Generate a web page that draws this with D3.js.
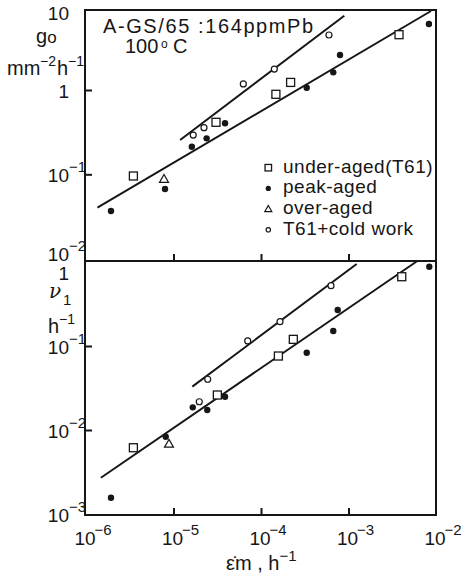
<!DOCTYPE html>
<html>
<head>
<meta charset="utf-8">
<script src="https://cdn.jsdelivr.net/npm/d3@7"></script>
<style>
  body { margin: 0; background: #fff; }
  svg { font-family: "Liberation Sans", Arial, Helvetica, sans-serif; }
  text { fill: #161616; }
</style>
</head>
<body>
<svg id="chart"></svg>
<script>
// decade exponents for the tick labels
const xTickExps = [-6, -5, -4, -3, -2];
const goTickExps = [1, 0, -1, -2];
const nuTickExps = [0, -1, -2, -3];

const legendLabels = ['under-aged(T61)', 'peak-aged', 'over-aged', 'T61+cold work'];
const legendKinds = ['square', 'dot', 'triangle', 'circle'];

// top panel: g0 (mm^-2 h^-1) against strain rate (h^-1)
const goUnder = [[3.48e-6, 0.0955], [3.06e-5, 0.414], [1.48e-4, 0.889], [2.18e-4, 1.23], [3.78e-3, 4.53]];
const goPeak = [[1.93e-6, 0.0367], [8.0e-6, 0.067], [1.62e-5, 0.212], [2.39e-5, 0.267], [3.88e-5, 0.403],
                [3.33e-4, 1.065], [6.7e-4, 1.62], [8.0e-4, 2.6], [8.3e-3, 6.07]];
const goOver = [[7.79e-6, 0.0873]];
const goCold = [[1.68e-5, 0.292], [2.23e-5, 0.357], [6.28e-5, 1.18], [1.42e-4, 1.77], [5.98e-4, 4.49]];
const goFitCold = [[1.19e-5, 0.255], [8.95e-4, 7.61]];
const goFitAll = [[1.35e-6, 0.0402], [8.77e-3, 8.65]];

// bottom panel: nu1 (h^-1) against strain rate (h^-1)
const nuUnder = [[3.48e-6, 0.00615], [3.17e-5, 0.0261], [1.58e-4, 0.076], [2.34e-4, 0.120], [4.06e-3, 0.668]];
const nuPeak = [[1.93e-6, 0.00156], [8.15e-6, 0.0083], [1.66e-5, 0.0186], [2.43e-5, 0.0173], [3.88e-5, 0.0249],
                [3.33e-4, 0.0832], [6.7e-4, 0.151], [7.53e-4, 0.268], [8.38e-3, 0.879]];
const nuOver = [[8.88e-6, 0.0068]];
const nuCold = [[1.97e-5, 0.0217], [2.46e-5, 0.0402], [7.05e-5, 0.115], [1.65e-4, 0.195], [6.31e-4, 0.522]];
const nuFitCold = [[1.64e-5, 0.0328], [1.24e-3, 0.947]];
const nuFitAll = [[1.48e-6, 0.0027], [6.18e-3, 1.036]];

const W = 463, H = 577;
const frame = {left: 85, right: 436, top: 10, mid: 261, bottom: 515};
const ink = '#161616';

const svg = d3.select('#chart').attr('width', W).attr('height', H);

const x = d3.scaleLog().domain([1e-6, 1e-2]).range([86, 436]);
const yGo = d3.scaleLog().domain([1e-2, 10]).range([258.6, 5.7]);
const yNu = d3.scaleLog().domain([1e-3, 1]).range([514, 262]);

// frame and the line between the two panels
svg.append('path')
    .attr('d', `M${frame.left},${frame.top}H${frame.right}V${frame.bottom}H${frame.left}Z M${frame.left},${frame.mid}H${frame.right}`)
    .attr('fill', 'none').attr('stroke', ink).attr('stroke-width', 2);

// inward ticks, only the ones that are not on a frame edge
function styleAxis(g) {
    g.select('.domain').remove();
    g.attr('color', ink);
    g.selectAll('.tick line').attr('stroke-width', 2);
}
function innerValues(exps, scale, a, b) {
    return exps.map(e => Math.pow(10, e)).filter(v => scale(v) > Math.min(a, b) + 3 && scale(v) < Math.max(a, b) - 3);
}

svg.append('g').attr('transform', `translate(${frame.left},0)`)
    .call(d3.axisLeft(yGo).tickValues(innerValues(goTickExps, yGo, frame.top, frame.mid)).tickSize(-7).tickFormat(''))
    .call(styleAxis);
svg.append('g').attr('transform', `translate(${frame.left},0)`)
    .call(d3.axisLeft(yNu).tickValues(innerValues(nuTickExps, yNu, frame.mid, frame.bottom)).tickSize(-7).tickFormat(''))
    .call(styleAxis);
[frame.mid, frame.bottom].forEach(yy => {
    svg.append('g').attr('transform', `translate(0,${yy})`)
        .call(d3.axisBottom(x).tickValues(innerValues(xTickExps, x, frame.left, frame.right)).tickSize(-7).tickFormat(''))
        .call(styleAxis);
});

// "10" with a superscript exponent
function powLabel(px, py, e, anchor, supDx) {
    const t = svg.append('text')
        .attr('x', px).attr('y', py)
        .attr('text-anchor', anchor)
        .attr('font-size', 19)
        .text(e === 0 ? '1' : '10');
    if (e === 0 || e === 1) return;
    const bb = t.node().getBBox();
    svg.append('text')
        .attr('x', bb.x + bb.width + supDx).attr('y', py - 10)
        .attr('font-size', 15)
        .text('\u2212' + (-e));
}

goTickExps.forEach(e => {
    const yy = Math.min(Math.max(yGo(Math.pow(10, e)) + 8, frame.top + 10), frame.mid);
    powLabel(69, yy, e, 'end', 0);
});
nuTickExps.forEach(e => {
    const yy = Math.max(yNu(Math.pow(10, e)) + 8, frame.mid + 19);
    powLabel(69, yy, e, 'end', 0);
});
xTickExps.forEach(e => {
    powLabel(x(Math.pow(10, e)) - 1, frame.bottom + 30, e, 'middle', -1);
});

// axis titles
const go = svg.append('text').attr('x', 36).attr('y', 43).attr('font-size', 20);
go.append('tspan').text('g');
go.append('tspan').attr('font-size', 17).text('o');

const goUnit = svg.append('text').attr('font-size', 20);
goUnit.append('tspan').attr('x', 7).attr('y', 75).text('mm');
goUnit.append('tspan').attr('x', 40).attr('y', 66).attr('font-size', 14).text('\u22122');
goUnit.append('tspan').attr('x', 57).attr('y', 75).text('h');
goUnit.append('tspan').attr('x', 68).attr('y', 66).attr('font-size', 14).text('\u22121');

const nu = svg.append('text').attr('x', 49).attr('y', 298);
nu.append('tspan').attr('font-family', '"DejaVu Serif", serif').attr('font-style', 'italic').attr('font-size', 20).text('\u03bd');
nu.append('tspan').attr('x', 63).attr('y', 305).attr('font-size', 15).text('1');

const nuUnit = svg.append('text').attr('font-size', 20);
nuUnit.append('tspan').attr('x', 48).attr('y', 333).text('h');
nuUnit.append('tspan').attr('x', 59).attr('y', 324).attr('font-size', 14).text('\u22121');

const xTitle = svg.append('text').attr('x', 226).attr('y', 570).attr('font-size', 20);
xTitle.append('tspan').text('\u03b5\u0307m , h');
xTitle.append('tspan').attr('dy', -9).attr('font-size', 15).text('\u22121');

// specimen note
svg.append('text').attr('x', 103).attr('y', 33).attr('font-size', 20).attr('letter-spacing', 1.6)
    .text('A-GS/65 :164ppmPb');
const temp = svg.append('text').attr('font-size', 20);
temp.append('tspan').attr('x', 125).attr('y', 53).text('100');
temp.append('tspan').attr('x', 161).attr('y', 48).attr('font-size', 12).text('o');
temp.append('tspan').attr('x', 173).attr('y', 53).text('C');

// fitted lines
function drawFit(pts, y) {
    svg.append('path').datum(pts)
        .attr('d', d3.line().x(d => x(d[0])).y(d => y(d[1])))
        .attr('fill', 'none').attr('stroke', ink).attr('stroke-width', 2);
}
drawFit(goFitCold, yGo);
drawFit(goFitAll, yGo);
drawFit(nuFitCold, yNu);
drawFit(nuFitAll, yNu);

// markers
const markerSize = {square: 8, dot: 3.2, triangle: 9, circle: 3};
function marker(g, kind, cx, cy, s) {
    if (kind === 'square') {
        g.append('rect').attr('x', cx - s / 2).attr('y', cy - s / 2).attr('width', s).attr('height', s)
            .attr('fill', '#fff').attr('stroke', ink).attr('stroke-width', 1.3);
    } else if (kind === 'dot') {
        g.append('circle').attr('cx', cx).attr('cy', cy).attr('r', s).attr('fill', ink);
    } else if (kind === 'circle') {
        g.append('circle').attr('cx', cx).attr('cy', cy).attr('r', s)
            .attr('fill', '#fff').attr('stroke', ink).attr('stroke-width', 1.2);
    } else {
        const h = s * 0.87;
        g.append('path').attr('d', `M${cx},${cy - h * 0.6}L${cx + s / 2},${cy + h * 0.4}L${cx - s / 2},${cy + h * 0.4}Z`)
            .attr('fill', '#fff').attr('stroke', ink).attr('stroke-width', 1.2);
    }
}
function drawSeries(pts, kind, y) {
    const g = svg.append('g');
    pts.forEach(d => marker(g, kind, x(d[0]), y(d[1]), markerSize[kind]));
}
drawSeries(goUnder, 'square', yGo);
drawSeries(goPeak, 'dot', yGo);
drawSeries(goOver, 'triangle', yGo);
drawSeries(goCold, 'circle', yGo);
drawSeries(nuUnder, 'square', yNu);
drawSeries(nuPeak, 'dot', yNu);
drawSeries(nuOver, 'triangle', yNu);
drawSeries(nuCold, 'circle', yNu);

// legend
const legendSize = {square: 6.5, dot: 2.6, triangle: 7, circle: 2.2};
const legend = svg.append('g');
legendLabels.forEach((lab, i) => {
    const ly = 167.7 + i * 20.7;
    marker(legend, legendKinds[i], 268.3, ly, legendSize[legendKinds[i]]);
    legend.append('text').attr('x', 283).attr('y', ly + 5).attr('font-size', 19).attr('letter-spacing', 0.5).text(lab);
});
</script>
</body>
</html>
